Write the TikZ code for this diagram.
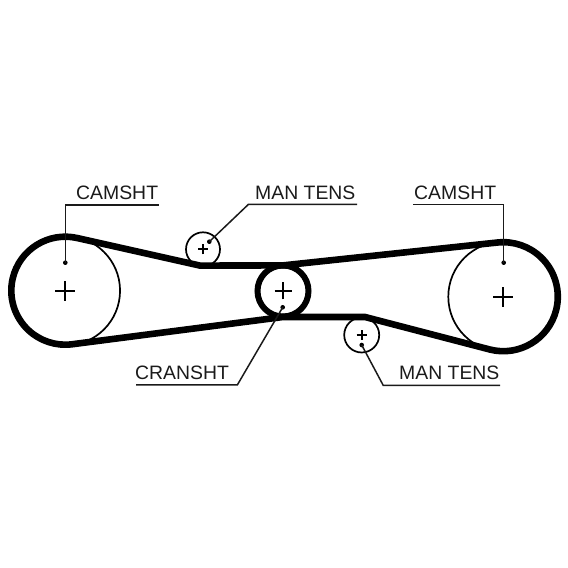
\documentclass[tikz,border=0pt]{standalone}
\usepackage{fontspec}
\usetikzlibrary{calc}
\setmainfont{Liberation Sans}
\definecolor{ink}{HTML}{1A1A1A}
\tikzset{
  x=1pt,y=1pt,
  pulley/.style={circle,draw=black,line width=1.7pt,inner sep=0pt,fill=none},
  belt/.style={draw=black,line width=6.6pt,line join=miter},
  leader/.style={draw=ink,line width=1.5pt},
  tag/.style={anchor=base west,inner sep=0pt,text=ink,font=\fontsize{19.4}{19.4}\selectfont},
  leaderdot/.style={circle,fill=black,inner sep=0pt,minimum size=4.6pt},
  crossbig/.style={draw=black,line width=1.7pt},
  crosssmall/.style={draw=black,line width=1.8pt}
}
\begin{document}
\begin{tikzpicture}
\useasboundingbox (0,0) rectangle (568,568);
% pulleys
\node[pulley,minimum size=109.5pt] (camL) at (65.3,277.3) {};
\node[pulley,minimum size=110pt] (camR) at (503.3,271.3) {};
\node[pulley,minimum size=34pt] (tensA) at (203,318.7) {};
\node[pulley,minimum size=35pt] (tensB) at (361.7,233) {};
\coordinate (crank) at (283,277);
% crosses
\draw[crossbig] ($(camL)+(-10,0)$) -- ($(camL)+(10,0)$) ($(camL)+(0,-10)$) -- ($(camL)+(0,10)$);
\draw[crossbig] ($(camR)+(-10,0)$) -- ($(camR)+(10,0)$) ($(camR)+(0,-10)$) -- ($(camR)+(0,10)$);
\draw[crossbig] ($(crank)+(-8.5,0)$) -- ($(crank)+(8.5,0)$) ($(crank)+(0,-8.5)$) -- ($(crank)+(0,8.5)$);
\draw[crosssmall] ($(tensA)+(-5,0)$) -- ($(tensA)+(5,0)$) ($(tensA)+(0,-5)$) -- ($(tensA)+(0,5)$);
\draw[crosssmall] ($(tensB)+(-5,0)$) -- ($(tensB)+(5,0)$) ($(tensB)+(0,-5)$) -- ($(tensB)+(0,5)$);
% belt
\coordinate (b1) at (200,302.4);
\coordinate (b2) at (283,251);
\coordinate (b3) at (365,251);
\coordinate (b4) at (283,302.6);
\path[belt] (b1) -- ($(camL)+(77:54)$) arc[start angle=77,end angle=277.1,radius=54pt]
  -- (b2) -- (b3) -- ($(camR)+(256:54.5)$) arc[start angle=256,end angle=456,radius=54.5pt]
  -- (b4) -- cycle;
\draw[draw=black,line width=6pt] (crank) circle[radius=25.5pt];
% labels
\node[tag] (t1) at (76,368) {CAMSHT};
\node[tag] (t2) at (255,368) {MAN TENS};
\node[tag] (t3) at (414,368) {CAMSHT};
\node[tag] (t4) at (135,188) {CRANSHT};
\node[tag] (t5) at (399,188) {MAN TENS};
% leader dots
\node[leaderdot] (d1) at (65.3,305.3) {};
\node[leaderdot] (d2) at (209.3,326.3) {};
\node[leaderdot] (d3) at (503.7,305.3) {};
\node[leaderdot] (d4) at (282.7,260.7) {};
\node[leaderdot] (d5) at (361.7,223) {};
% leader ends
\coordinate (e1) at (159,363);
\coordinate (k1) at (65.3,363);
\coordinate (e2) at (357,363.5);
\coordinate (k2) at (248.3,363.5);
\coordinate (e3) at (413,363.5);
\coordinate (k3) at (503.7,363.5);
\coordinate (e4) at (136,183);
\coordinate (k4) at (237.3,183);
\coordinate (e5) at (500,182.5);
\coordinate (k5) at (383.3,182.5);
\draw[leader] (d1.center) -- (k1) -- (e1);
\draw[leader] (d2.center) -- (k2) -- (e2);
\draw[leader] (d3.center) -- (k3) -- (e3);
\draw[leader] (d4.center) -- (k4) -- (e4);
\draw[leader] (d5.center) -- (k5) -- (e5);
\end{tikzpicture}
\end{document}
